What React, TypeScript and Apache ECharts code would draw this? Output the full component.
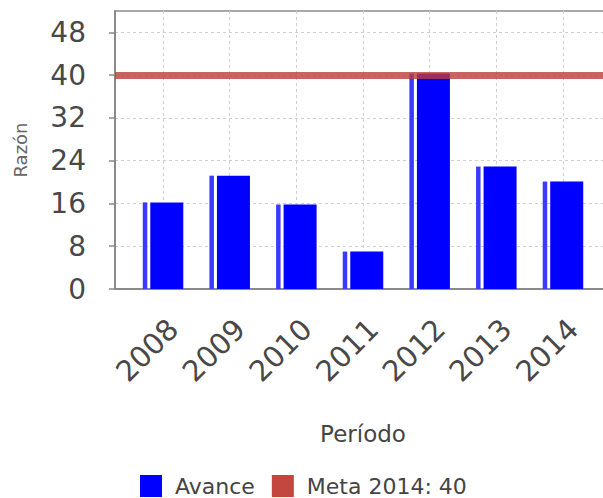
import React, { useEffect, useRef } from "react";
import * as echarts from "echarts";

const categories = ["2008", "2009", "2010", "2011", "2012", "2013", "2014"];
const avance = [16.2, 21.2, 15.8, 7.0, 40.3, 22.9, 20.1];
const metaValue = 40;
const yTicks = [0, 8, 16, 24, 32, 40, 48];
const yMax = 52;
const seriesNames = ["Avance", "Meta 2014: 40"];
const axisTitles = { x: "Período", y: "Razón" };

const FONT = "'DejaVu Sans', sans-serif";

export default function App() {
  const ref = useRef<HTMLDivElement>(null);
  useEffect(() => {
    if (!ref.current) return;
    const chart = echarts.init(ref.current, undefined, { renderer: "svg" });
    const option: any = {
      animation: false,
      backgroundColor: "#ffffff",
      grid: [
        {
          left: 115, top: 11, right: -8, bottom: 209,
          show: true, borderColor: "#8c8c8c", borderWidth: 1.5,
          backgroundColor: "transparent", outerBoundsMode: "none",
        },
        { left: 129.7, top: 11, right: 6.7, bottom: 209, outerBoundsMode: "none" },
      ],
      xAxis: [
        {
          gridIndex: 0, type: "value", min: 0, max: 1, offset: 10,
          axisLine: { show: true, lineStyle: { color: "#8a8a8a", width: 2 } },
          axisTick: { show: false }, axisLabel: { show: false }, splitLine: { show: false },
        },
        {
          gridIndex: 1, type: "category", data: categories, offset: 10,
          axisLine: { show: false }, axisTick: { show: false },
          splitLine: { show: true, alignWithLabel: true, lineStyle: { color: "#cfcfcf", type: [3, 3], width: 1 } },
          axisLabel: {
            rotate: 45, verticalAlign: "top", margin: 15, fontSize: 29,
            color: "#484848", fontFamily: FONT, interval: 0,
          },
          name: axisTitles.x, nameLocation: "middle", nameGap: 123, nameMoveOverlap: false,
          nameTextStyle: { fontSize: 23, color: "#444", fontFamily: FONT },
        },
      ],
      yAxis: [
        {
          gridIndex: 0, type: "value", min: 0, max: yMax, interval: 8, offset: 10,
          axisLine: { show: true, lineStyle: { color: "#8a8a8a", width: 2 } },
          axisTick: { show: true, length: 6, customValues: yTicks, lineStyle: { color: "#8a8a8a", width: 1.5 } },
          axisLabel: { customValues: yTicks, margin: 19, fontSize: 28, color: "#484848", fontFamily: FONT },
          splitLine: { show: true, lineStyle: { color: "#cfcfcf", type: [3, 3], width: 1 } },
          name: axisTitles.y, nameLocation: "middle", nameGap: 76, nameMoveOverlap: false,
          nameTextStyle: { fontSize: 18, color: "#666", fontFamily: FONT },
        },
        { gridIndex: 1, type: "value", min: 0, max: yMax, show: false },
      ],
      legend: {
        data: seriesNames, left: 140, top: 475, padding: 0, itemWidth: 22, itemHeight: 22, itemGap: 17,
        icon: "rect", textStyle: { fontSize: 22, color: "#444", fontFamily: FONT, padding: [0, 0, 0, 8] },
      },
      series: [
        {
          type: "bar", name: "AvanceEdge", xAxisIndex: 1, yAxisIndex: 1, data: avance,
          barWidth: 4.5, barGap: "67%", itemStyle: { color: "#3a3aff" }, silent: true,
        },
        {
          type: "bar", name: seriesNames[0], xAxisIndex: 1, yAxisIndex: 1, data: avance,
          barWidth: 33, barGap: "67%", itemStyle: { color: "#0000ff" },
        },
        {
          type: "line", name: seriesNames[1], xAxisIndex: 0, yAxisIndex: 0, data: [], z: 5,
          itemStyle: { color: "#c4473f" }, lineStyle: { color: "#c4473f" },
          markLine: {
            silent: true, z: 5, symbol: ["none", "none"], label: { show: false },
            lineStyle: { color: "rgba(190,60,55,0.8)", width: 7, type: "solid" },
            data: [{ yAxis: metaValue }],
          },
        },
      ],
    };
    chart.setOption(option);
    return () => chart.dispose();
  }, []);
  return (
    <div
      ref={ref}
      style={{ position: "absolute", left: 0, top: 0, width: 603, height: 498 }}
    />
  );
}
